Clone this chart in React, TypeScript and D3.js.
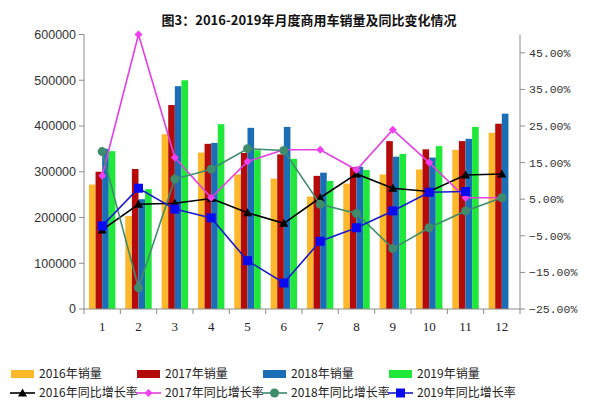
import React from 'react';
import * as d3 from 'd3';

const months = ['1', '2', '3', '4', '5', '6', '7', '8', '9', '10', '11', '12'];
const barSeries = ['2016年销量', '2017年销量', '2018年销量', '2019年销量'];
const lineSeries = ['2016年同比增长率', '2017年同比增长率', '2018年同比增长率', '2019年同比增长率'];

// monthly sales (vehicles)
const sales2016 = [272000, 203000, 382000, 342000, 294000, 285000, 246000, 274000, 294000, 305000, 348000, 385000];
const sales2017 = [300000, 306000, 446000, 361000, 341000, 338000, 291000, 310000, 367000, 349000, 367000, 405000];
const sales2018 = [350000, 240000, 487000, 363000, 396000, 398000, 298000, 311000, 333000, 331000, 372000, 427000];
const sales2019 = [345000, 262000, 500000, 404000, 347000, 328000, 280000, 304000, 339000, 356000, 398000, null];

// year-on-year growth (%)
const yoy2016 = [-3.4, 3.6, 3.9, 5.2, 1.3, -1.6, 5.4, 11.9, 8.0, 7.1, 11.6, 11.9];
const yoy2017 = [11.4, 50.0, 16.4, 5.4, 15.3, 18.5, 18.5, 13.0, 24.0, 15.0, 5.4, 5.4];
const yoy2018 = [18.0, -19.2, 10.5, 13.2, 18.8, 18.3, 3.6, 1.1, -8.5, -2.8, 1.8, 5.4];
const yoy2019 = [-2.3, 8.0, 2.3, -0.1, -11.8, -17.9, -6.5, -2.8, 1.8, 6.9, 7.1, null];

const leftTicks = [0, 100000, 200000, 300000, 400000, 500000, 600000];
const rightTicks = [-25, -15, -5, 5, 15, 25, 35, 45];

const barColors = ['#FDB72A', '#B40A0A', '#1B6DB5', '#1FE83A'];
const lineColors = ['#000000', '#E33FE3', '#3E8C6C', '#1A1ACC'];
const markerColors = ['#000000', '#F040F0', '#3E8C6C', '#0A0AF0'];

const W = 600;
const H = 411;
const left = 84;
const right = 520;
const top = 34.5;
const bottom = 309;

const Marker: React.FC<{ kind: number, x: number, y: number, color: string }> = ({ kind, x, y, color }) => {
  if (kind === 0) {
    return <path d={`M${x},${y - 4.5}L${x + 4.5},${y + 3.5}L${x - 4.5},${y + 3.5}Z`} fill={color} />;
  }
  if (kind === 1) {
    return <path d={`M${x},${y - 4}L${x + 4},${y}L${x},${y + 4}L${x - 4},${y}Z`} fill={color} />;
  }
  if (kind === 2) {
    return <circle cx={x} cy={y} r={4.5} fill={color} />;
  }
  return <rect x={x - 4.5} y={y - 4.5} width={9} height={9} fill={color} />;
};

const App: React.FC = () => {
  const bars = [sales2016, sales2017, sales2018, sales2019];
  const rates = [yoy2016, yoy2017, yoy2018, yoy2019];

  const x = d3.scaleBand().domain(months).range([left, right]).paddingInner(0).paddingOuter(0);
  const x1 = d3.scaleBand().domain(barSeries).range([0, x.bandwidth()]).paddingInner(0).paddingOuter(0.75);
  const yL = d3.scaleLinear().domain([0, 600000]).range([bottom, top]);
  const yR = d3.scaleLinear().domain([-25, 50]).range([bottom, top]);
  const fmtPct = (v: number) => d3.format('.2f')(v) + '%';

  const boundaries = [...months.map(m => x(m) as number), right];

  return (
    <svg width={W} height={H} style={{ position: 'absolute', left: 0, top: 0, background: '#fff' }}>
      <text x={309} y={25} textAnchor="middle" fontFamily="'Noto Sans CJK SC'" fontWeight="bold" fontSize={13} fill="#111">
        图3：2016-2019年月度商用车销量及同比变化情况
      </text>

      {bars.map((vals, si) => (
        <g key={si}>
          {vals.map((v, mi) => v == null ? null : (
            <rect key={mi}
              x={(x(months[mi]) as number) + (x1(barSeries[si]) as number)}
              y={yL(v)}
              width={x1.bandwidth()}
              height={bottom - yL(v)}
              fill={barColors[si]} />
          ))}
        </g>
      ))}

      {/* left axis */}
      <line x1={left} x2={left} y1={top} y2={bottom} stroke="#8c8c8c" />
      {leftTicks.map(t => (
        <g key={t} transform={`translate(${left}, ${yL(t)})`}>
          <line x2={-5} stroke="#8c8c8c" />
          <text x={-8} dy="0.35em" textAnchor="end" fontFamily="'Liberation Sans'" fontSize={12.5} fill="#333">{t}</text>
        </g>
      ))}

      {/* right axis */}
      <line x1={right} x2={right} y1={top} y2={bottom} stroke="#8c8c8c" />
      {rightTicks.map(t => (
        <g key={t} transform={`translate(${right}, ${yR(t)})`}>
          <line x2={5} stroke="#8c8c8c" />
          <text x={9} dy="0.35em" fontFamily="'Liberation Mono'" fontSize={11.5} fill="#333">{fmtPct(t)}</text>
        </g>
      ))}

      {/* bottom axis */}
      <line x1={left} x2={right} y1={bottom} y2={bottom} stroke="#8c8c8c" />
      {boundaries.map((b, i) => (
        <line key={i} x1={b} x2={b} y1={bottom} y2={bottom + 5} stroke="#8c8c8c" />
      ))}
      {months.map(m => (
        <text key={m} x={(x(m) as number) + x.bandwidth() / 2} y={331} textAnchor="middle"
          fontFamily="'Liberation Serif'" fontSize={13} fill="#222">{m}</text>
      ))}

      {rates.map((vals, si) => {
        const line = d3.line<number | null>()
          .defined(d => d != null)
          .x((_, i) => (x(months[i]) as number) + x.bandwidth() / 2)
          .y(d => yR(d as number));
        return (
          <g key={si}>
            <path d={line(vals) || ''} fill="none" stroke={lineColors[si]} strokeWidth={1.6} />
            {vals.map((v, mi) => v == null ? null : (
              <Marker key={mi} kind={si} x={(x(months[mi]) as number) + x.bandwidth() / 2} y={yR(v)} color={markerColors[si]} />
            ))}
          </g>
        );
      })}

      {/* legend */}
      {barSeries.map((s, i) => (
        <g key={s} transform={`translate(${11 + i * 126}, 374)`}>
          <rect x={0} y={-4} width={23} height={8} fill={barColors[i]} />
          <text x={28} dy="0.36em" fontFamily="'Noto Sans CJK SC'" fontSize={12} fill="#222">{s}</text>
        </g>
      ))}
      {lineSeries.map((s, i) => (
        <g key={s} transform={`translate(${10 + i * 126}, 393)`}>
          <line x1={0} x2={25} stroke={lineColors[i]} strokeWidth={1.6} />
          <Marker kind={i} x={12.5} y={0} color={markerColors[i]} />
          <text x={29} dy="0.36em" fontFamily="'Noto Sans CJK SC'" fontSize={12} fill="#222">{s}</text>
        </g>
      ))}
    </svg>
  );
};

export default App;
